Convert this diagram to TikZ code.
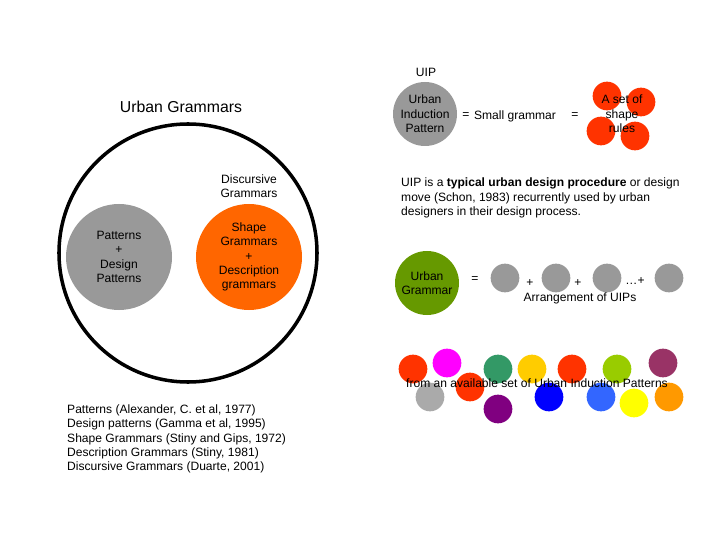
\documentclass[tikz,border=0pt]{standalone}
\usepackage{fontspec}
\setmainfont{Liberation Sans}
\usetikzlibrary{positioning}
\definecolor{uipgray}{HTML}{999999}
\definecolor{shapeorange}{HTML}{FF6600}
\definecolor{rulered}{HTML}{FF3300}
\definecolor{grammargreen}{HTML}{669900}
\definecolor{poolmagenta}{HTML}{FF00FF}
\definecolor{poolteal}{HTML}{339966}
\definecolor{poolgold}{HTML}{FFCC00}
\definecolor{poollime}{HTML}{99CC00}
\definecolor{poolplum}{HTML}{993366}
\definecolor{poolgray}{HTML}{AAAAAA}
\definecolor{poolpurple}{HTML}{800080}
\definecolor{pooldeepblue}{HTML}{0000FF}
\definecolor{poolblue}{HTML}{3366FF}
\definecolor{poolyellow}{HTML}{FFFF00}
\definecolor{poolorange}{HTML}{FF9900}

\begin{document}
\begin{tikzpicture}[x=0.03cm,y=-0.03cm,font=\fontsize{10.3}{12.3}\selectfont,blob/.style={circle,inner sep=0pt,minimum size=1.92cm,align=center,fill=uipgray},dot/.style={circle,inner sep=0pt,minimum size=0.86cm},txt/.style={align=center,inner sep=0pt}]
\useasboundingbox (0,0) rectangle (720,540);
% left: urban grammars
\node[txt,font=\fontsize{13.5}{16}\selectfont] (ugtitle) at (181,107) {Urban Grammars};
\node[circle,draw,line width=3pt,minimum size=7.74cm] (ugset) at (188,253) {};
\node[txt] (discursive) at (249,186) {Discursive\\Grammars};
\node[blob,minimum size=3.18cm] (patterns) at (119,257) {Patterns\\+\\Design\\Patterns};
\node[blob,minimum size=3.18cm,fill=shapeorange] (shapes) at (249,257) {Shape\\Grammars\\+\\Description\\grammars};
\node[txt,align=left,anchor=west] (refs) at (67,439) {Patterns (Alexander, C. et al, 1977)\\Design patterns (Gamma et al, 1995)\\Shape Grammars (Stiny and Gips, 1972)\\Description Grammars (Stiny, 1981)\\Discursive Grammars (Duarte, 2001)};
% right: UIP
\node[txt] (uiptitle) at (426,72) {UIP};
\node[blob] (uip) at (425,114) {Urban\\Induction\\Pattern};
\node[txt] (eqa) at (466,116) {=};
\node[txt] (small) at (515,116) {Small grammar};
\node[txt] (eqb) at (575,116) {=};
\node[dot,fill=rulered] (rulea) at (607,96) {};
\node[dot,fill=rulered] (ruleb) at (641,102) {};
\node[dot,fill=rulered] (rulec) at (601,131) {};
\node[dot,fill=rulered] (ruled) at (635,136) {};
\node[txt] (rules) at (622,114) {A set of\\shape\\rules};
\node[txt,align=left,anchor=west] (about) at (401,198) {UIP is a \textbf{typical urban design procedure} or design\\move (Schon, 1983) recurrently used by urban\\designers in their design process.};
% urban grammar as arrangement
\node[blob,fill=grammargreen] (ugram) at (427,283) {Urban\\Grammar};
\node[txt] (eqc) at (475,280) {=};
\node[dot,fill=uipgray] (arra) at (505,278) {};
\node[dot,fill=uipgray] (arrb) at (556,278) {};
\node[dot,fill=uipgray] (arrc) at (607,278) {};
\node[dot,fill=uipgray] (arrd) at (669,278) {};
\node[txt] (plusa) at (530,283) {+};
\node[txt] (plusb) at (578,283) {+};
\node[txt] (plusc) at (635,281) {\dots+};
\node[txt] (arrange) at (580,298) {Arrangement of UIPs};
% pool of patterns
\foreach \x/\y/\c [count=\i] in {413/369/rulered,447/363/poolmagenta,498/369/poolteal,532/369/poolgold,572/369/rulered,617/369/poollime,663/363/poolplum,430/397/poolgray,470/387/rulered,498/409/poolpurple,549/397/pooldeepblue,601/397/poolblue,634/403/poolyellow,669/397/poolorange}
  \node[dot,fill=\c] (pool\i) at (\x,\y) {};
\node[txt] (pooltext) at (537,383) {from an available set of Urban Induction Patterns};
\end{tikzpicture}
\end{document}
